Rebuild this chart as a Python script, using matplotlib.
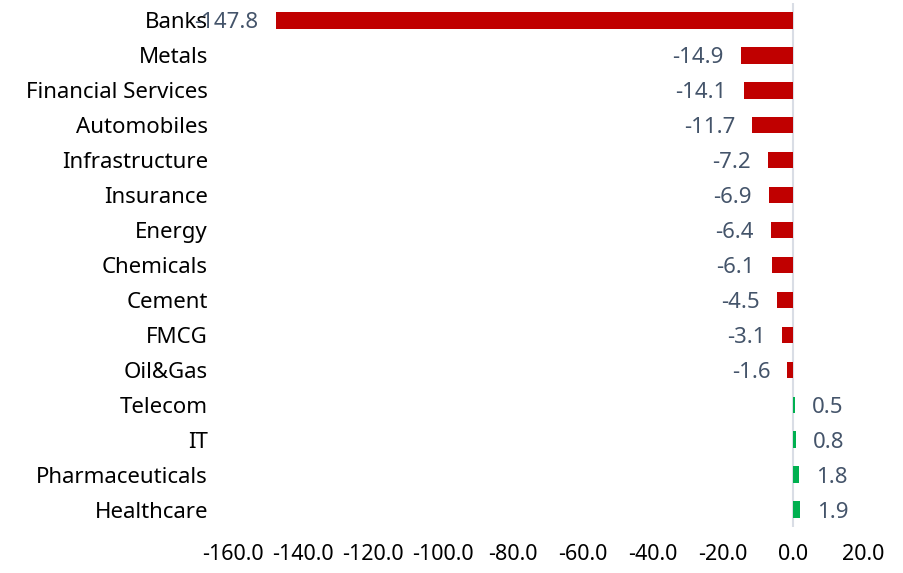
import matplotlib
matplotlib.use("Agg")
import matplotlib.pyplot as plt
from matplotlib.transforms import offset_copy

categories = ["Banks", "Metals", "Financial Services", "Automobiles", "Infrastructure",
              "Insurance", "Energy", "Chemicals", "Cement", "FMCG", "Oil&Gas",
              "Telecom", "IT", "Pharmaceuticals", "Healthcare"]
values = [-147.8, -14.9, -14.1, -11.7, -7.2, -6.9, -6.4, -6.1, -4.5, -3.1, -1.6,
          0.5, 0.8, 1.8, 1.9]
xticks = [-160, -140, -120, -100, -80, -60, -40, -20, 0, 20]

plt.rcParams['font.family'] = ['Noto Sans', 'DejaVu Sans']

fig = plt.figure(figsize=(9.04, 5.73), dpi=100)
ax = fig.add_axes([233/904, 1-527/573, (863-233)/904, (527-3)/573])

ypos = list(range(len(categories)))
colors = ['#C00000' if v < 0 else '#00B050' for v in values]
ax.barh(ypos, values, height=0.47, color=colors)
ax.set_ylim(len(categories) - 0.5, -0.5)
ax.set_xlim(-160, 20)
ax.set_xticks(xticks)
ax.set_xticklabels([f"{t:.1f}" for t in xticks], fontsize=15.5, color='black')
ax.set_yticks(ypos)
ax.set_yticklabels(categories, fontsize=16, color='black')
ax.tick_params(length=0)
ax.tick_params(axis='y', pad=18)
ax.tick_params(axis='x', pad=12)
for s in ax.spines.values():
    s.set_visible(False)
ax.axvline(0, color='#D9DDE5', lw=1.5, zorder=0)

for y, v in zip(ypos, values):
    if v < 0:
        tr = offset_copy(ax.transData, fig=fig, x=-17, y=0, units='dots')
        ax.text(v, y, f"{v:.1f}", transform=tr, ha='right', va='center_baseline',
                fontsize=16, color='#44546A')
    else:
        tr = offset_copy(ax.transData, fig=fig, x=17, y=0, units='dots')
        ax.text(v, y, f"{v:.1f}", transform=tr, ha='left', va='center_baseline',
                fontsize=16, color='#44546A')

fig.savefig("out.png", dpi=100)
